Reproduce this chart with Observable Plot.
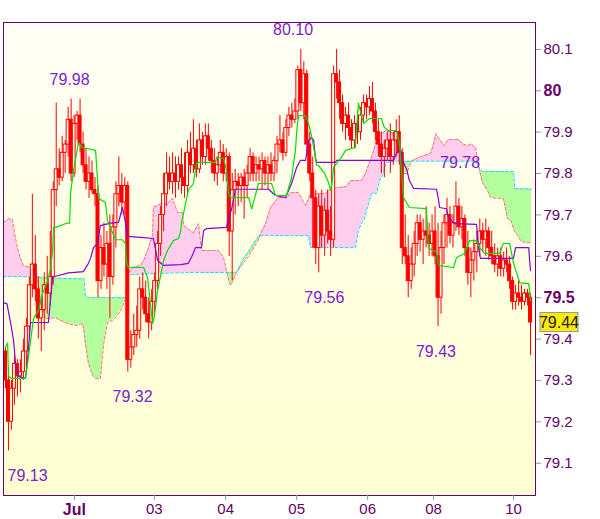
<!DOCTYPE html>
<html><head><meta charset="utf-8">
<script src="https://cdn.jsdelivr.net/npm/d3@7"></script>
<script src="https://cdn.jsdelivr.net/npm/@observablehq/plot@0.6"></script>
<style>html,body{margin:0;padding:0;background:#fff;} #chart svg{display:block;}</style>
</head><body><div id="chart"></div>
<script>
// Hourly candles (index 0..176)
const open = [79.37,79.30,79.20,79.28,79.34,79.31,79.32,79.37,79.43,79.53,79.58,79.52,79.45,79.47,79.53,79.51,79.55,79.76,79.81,79.79,79.85,79.87,79.93,79.80,79.92,79.94,79.87,79.82,79.78,79.80,79.76,79.75,79.54,79.62,79.58,79.63,79.55,79.67,79.75,79.77,79.73,79.77,79.35,79.38,79.41,79.42,79.52,79.50,79.46,79.44,79.49,79.54,79.63,79.70,79.75,79.80,79.78,79.80,79.78,79.82,79.79,79.77,79.85,79.82,79.86,79.81,79.88,79.84,79.89,79.86,79.83,79.80,79.82,79.85,79.80,79.84,79.66,79.76,79.78,79.77,79.79,79.77,79.80,79.84,79.80,79.82,79.81,79.83,79.80,79.82,79.80,79.83,79.87,79.88,79.85,79.91,79.94,79.93,79.95,80.05,79.97,80.04,79.87,79.80,79.74,79.62,79.72,79.65,79.71,79.66,79.64,80.04,80.02,79.97,79.92,79.94,79.91,79.88,79.92,79.90,79.94,79.97,79.96,79.98,79.95,79.90,79.87,79.84,79.86,79.88,79.84,79.88,79.90,79.85,79.62,79.60,79.54,79.58,79.63,79.68,79.64,79.66,79.65,79.63,79.66,79.60,79.50,79.62,79.68,79.70,79.65,79.68,79.72,79.67,79.69,79.62,79.56,79.59,79.61,79.63,79.66,79.64,79.66,79.62,79.60,79.58,79.60,79.57,79.59,79.58,79.54,79.49,79.51,79.50,79.49,79.51,79.50];
const high = [79.38,79.33,79.30,79.36,79.35,79.35,79.40,79.45,79.55,79.75,79.65,79.55,79.50,79.56,79.60,79.66,79.78,79.97,79.86,79.89,79.88,79.96,79.98,79.94,79.95,79.98,79.90,79.86,79.84,79.83,79.79,79.77,79.65,79.68,79.66,79.70,79.70,79.78,79.84,79.80,79.79,79.78,79.42,79.46,79.48,79.55,79.56,79.54,79.50,79.52,79.56,79.66,79.72,79.80,79.85,79.84,79.85,79.84,79.84,79.86,79.85,79.88,79.90,79.93,79.88,79.92,79.90,79.92,79.92,79.88,79.86,79.84,79.88,79.87,79.86,79.85,79.80,79.81,79.80,79.80,79.81,79.82,79.86,79.85,79.84,79.84,79.85,79.84,79.84,79.85,79.84,79.89,79.94,79.90,79.93,79.96,79.97,79.98,80.06,80.10,80.07,80.05,79.90,79.84,79.76,79.75,79.76,79.74,79.76,79.72,80.06,80.10,80.05,79.99,79.96,79.97,79.93,79.94,79.95,79.96,79.99,79.99,80.01,80.02,79.97,79.93,79.90,79.88,79.90,79.92,79.90,79.93,79.94,79.86,79.70,79.65,79.62,79.66,79.70,79.70,79.69,79.72,79.68,79.70,79.72,79.68,79.66,79.70,79.74,79.72,79.70,79.78,79.74,79.72,79.70,79.66,79.62,79.64,79.66,79.69,79.68,79.69,79.67,79.66,79.63,79.62,79.62,79.61,79.62,79.60,79.55,79.53,79.54,79.53,79.52,79.52,79.51];
const low = [79.28,79.13,79.18,79.24,79.26,79.27,79.30,79.33,79.40,79.50,79.49,79.40,79.37,79.42,79.46,79.48,79.53,79.72,79.77,79.78,79.80,79.84,79.78,79.79,79.88,79.85,79.80,79.76,79.74,79.75,79.72,79.50,79.52,79.55,79.52,79.45,79.53,79.62,79.72,79.70,79.70,79.32,79.33,79.36,79.38,79.40,79.47,79.44,79.40,79.42,79.46,79.52,79.60,79.66,79.72,79.76,79.75,79.74,79.76,79.75,79.74,79.75,79.80,79.80,79.79,79.80,79.82,79.82,79.83,79.80,79.78,79.77,79.80,79.78,79.78,79.60,79.54,79.70,79.72,79.73,79.69,79.74,79.78,79.78,79.78,79.78,79.76,79.77,79.76,79.78,79.78,79.80,79.85,79.83,79.84,79.89,79.91,79.92,79.93,79.95,79.93,79.84,79.78,79.62,79.58,79.56,79.62,79.60,79.63,79.60,79.62,79.98,79.93,79.90,79.88,79.89,79.86,79.86,79.87,79.88,79.92,79.93,79.94,79.92,79.88,79.84,79.80,79.79,79.83,79.80,79.82,79.84,79.82,79.58,79.58,79.50,79.52,79.55,79.60,79.61,79.58,79.62,79.60,79.60,79.58,79.43,79.46,79.58,79.62,79.63,79.62,79.66,79.65,79.64,79.60,79.53,79.50,79.54,79.56,79.60,79.61,79.60,79.59,79.58,79.56,79.55,79.55,79.55,79.56,79.52,79.47,79.47,79.48,79.47,79.48,79.48,79.36];
const close = [79.30,79.20,79.28,79.34,79.31,79.32,79.37,79.43,79.53,79.58,79.52,79.45,79.47,79.53,79.51,79.55,79.76,79.81,79.79,79.85,79.87,79.93,79.80,79.92,79.94,79.87,79.82,79.78,79.80,79.76,79.75,79.54,79.62,79.58,79.63,79.55,79.67,79.75,79.77,79.73,79.77,79.35,79.38,79.41,79.42,79.52,79.50,79.46,79.44,79.49,79.54,79.63,79.70,79.75,79.80,79.78,79.80,79.78,79.82,79.79,79.77,79.85,79.82,79.86,79.81,79.88,79.84,79.89,79.86,79.83,79.80,79.82,79.85,79.80,79.84,79.66,79.76,79.78,79.77,79.79,79.77,79.80,79.84,79.80,79.82,79.81,79.83,79.80,79.82,79.80,79.83,79.87,79.88,79.85,79.91,79.94,79.93,79.95,80.05,79.97,80.04,79.87,79.80,79.74,79.62,79.72,79.65,79.71,79.66,79.64,80.04,80.02,79.97,79.92,79.94,79.91,79.88,79.92,79.90,79.94,79.97,79.96,79.98,79.95,79.90,79.87,79.84,79.86,79.88,79.84,79.88,79.90,79.85,79.62,79.60,79.54,79.58,79.63,79.68,79.64,79.66,79.65,79.63,79.66,79.60,79.50,79.62,79.68,79.70,79.65,79.68,79.72,79.67,79.69,79.62,79.56,79.59,79.61,79.63,79.66,79.64,79.66,79.62,79.60,79.58,79.60,79.57,79.59,79.58,79.54,79.49,79.51,79.50,79.49,79.51,79.50,79.44];

// Conversion line (green) [index, price]
const tenkan = [[0,79.38],[0.7,79.39],[1,79.31],[2,79.305],[6.7,79.305],[7.4,79.341],[9.4,79.45],[11.1,79.47],[12.4,79.51],[14.1,79.54],[15.1,79.57],[15.8,79.614],[16.1,79.67],[16.8,79.67],[20.5,79.68],[21.5,79.68],[21.8,79.752],[22.8,79.807],[24.1,79.86],[24.5,79.875],[25.8,79.863],[30.2,79.856],[30.8,79.79],[31.2,79.74],[33.5,79.73],[34.2,79.686],[36.9,79.64],[39.2,79.64],[40.2,79.631],[40.6,79.585],[41.2,79.573],[46.3,79.573],[47.6,79.549],[48.6,79.486],[49.3,79.438],[49.8,79.45],[51,79.517],[53,79.59],[54.3,79.614],[56.3,79.638],[58,79.643],[58.7,79.66],[59,79.68],[61.3,79.76],[63,79.776],[64,79.824],[64.7,79.827],[70.4,79.827],[70.7,79.839],[73.1,79.837],[74.1,79.807],[74.8,79.752],[75.4,79.742],[81.5,79.742],[82.5,79.715],[83.5,79.74],[84.8,79.776],[89.2,79.776],[90.5,79.747],[94.2,79.747],[95.9,79.791],[97.2,79.856],[97.6,79.90],[98.2,79.94],[100.6,79.94],[101.6,79.921],[102.6,79.89],[103.3,79.863],[104.3,79.82],[104.9,79.82],[107,79.80],[108.3,79.778],[109,79.759],[109.5,79.78],[110,79.815],[112.6,79.839],[114,79.856],[117.3,79.863],[118.3,79.97],[120,79.921],[122,79.933],[126,79.933],[127,79.911],[128.4,79.904],[131.1,79.904],[132.1,79.872],[133.4,79.742],[135.4,79.718],[141.1,79.715],[141.8,79.62],[144.5,79.609],[145.2,79.578],[150.2,79.573],[151.2,79.597],[153.9,79.607],[155.6,79.638],[157.9,79.638],[158.9,79.621],[160.6,79.607],[165.6,79.607],[166.9,79.631],[169,79.631],[170.3,79.583],[172.4,79.536],[175.4,79.534],[176,79.493]];

// Base line (purple) [index, price]
const kijun = [[-0.67,79.488],[0.5,79.485],[1.7,79.44],[2.7,79.397],[3.5,79.33],[4.4,79.31],[6.7,79.305],[7.5,79.36],[8.4,79.44],[14.4,79.44],[15.8,79.55],[21.1,79.56],[26.1,79.563],[27.8,79.583],[28.5,79.595],[29.5,79.621],[30.8,79.631],[31.8,79.674],[35.2,79.68],[37.9,79.682],[39.2,79.718],[40,79.69],[40.9,79.648],[46.3,79.645],[49.6,79.643],[51,79.59],[53,79.578],[58.7,79.58],[61.3,79.583],[62.5,79.60],[63.7,79.621],[65.7,79.621],[66.4,79.662],[67.4,79.667],[74.1,79.670],[75,79.70],[75.7,79.711],[77.1,79.762],[88.2,79.762],[90.5,79.747],[93.9,79.742],[95.9,79.776],[97.6,79.815],[98.9,79.832],[100.6,79.832],[101.6,79.880],[102.6,79.887],[103.3,79.88],[103.9,79.839],[104.3,79.827],[110.6,79.827],[111,79.832],[130.1,79.832],[131.1,79.849],[132.5,79.856],[133.4,79.827],[134.5,79.81],[135.4,79.783],[136.8,79.764],[144.5,79.762],[145.2,79.735],[145.5,79.718],[147.8,79.715],[148.5,79.694],[150.5,79.679],[157.9,79.677],[158.6,79.62],[159.2,79.595],[170.3,79.595],[171,79.621],[175.4,79.621],[175.7,79.59],[176,79.566]];

// Cloud [index, span (salmon dashed), span (cyan dashed)]
const cloud = [[-0.67,79.682,79.551],[1,79.691,79.551],[2.3,79.689,79.551],[3,79.657,79.551],[4,79.621,79.551],[5,79.595,79.551],[6,79.578,79.551],[8.4,79.573,79.550],[10.1,79.559,79.550],[10.7,79.549,79.550],[11.7,79.493,79.549],[13.4,79.450,79.548],[15.1,79.450,79.548],[16.8,79.452,79.547],[18.4,79.445,79.547],[21.8,79.435,79.546],[24.1,79.433,79.546],[25.8,79.438,79.546],[26.3,79.42,79.546],[26.8,79.389,79.505],[27.8,79.341,79.500],[29.2,79.312,79.500],[30.2,79.305,79.500],[31.8,79.305,79.500],[32.9,79.389,79.500],[34.2,79.440,79.500],[35.9,79.445,79.500],[36.9,79.452,79.500],[39.2,79.476,79.500],[40.2,79.498,79.500],[40.9,79.53,79.500],[41.2,79.559,79.554],[42.6,79.573,79.556],[45.3,79.578,79.557],[46.3,79.590,79.557],[47.6,79.614,79.558],[49.3,79.650,79.558],[49.6,79.718,79.558],[52,79.727,79.559],[54.3,79.727,79.559],[56,79.740,79.560],[57.7,79.706,79.560],[59.3,79.706,79.560],[59.7,79.675,79.560],[61,79.667,79.561],[63,79.657,79.561],[64.7,79.679,79.561],[65.7,79.614,79.561],[71.4,79.614,79.561],[73.1,79.597,79.561],[74.1,79.566,79.561],[74.8,79.542,79.561],[75.4,79.530,79.561],[76,79.537,79.561],[77.4,79.561,79.561],[78.8,79.575,79.58],[79.8,79.585,79.595],[81.5,79.600,79.612],[83.1,79.620,79.630],[84.8,79.640,79.648],[85.5,79.655,79.650],[87.2,79.679,79.650],[88.8,79.718,79.650],[91.5,79.742,79.650],[94.5,79.742,79.650],[95.5,79.754,79.650],[98.2,79.754,79.650],[100.6,79.723,79.650],[101.6,79.74,79.650],[102.3,79.752,79.621],[107.3,79.752,79.621],[109.3,79.764,79.621],[114.3,79.769,79.621],[115.7,79.783,79.621],[117.3,79.783,79.621],[118.3,79.783,79.662],[119.3,79.783,79.68],[120.3,79.795,79.69],[121,79.807,79.71],[122.7,79.84,79.752],[123.7,79.863,79.752],[124.4,79.892,79.752],[125.4,79.895,79.783],[126.7,79.90,79.803],[127.7,79.904,79.827],[130.4,79.896,79.830],[131.5,79.87,79.830],[132.5,79.82,79.830],[133.4,79.80,79.829],[134.5,79.80,79.829],[135.5,79.82,79.830],[136.5,79.832,79.830],[138.5,79.839,79.830],[142.5,79.849,79.830],[143.5,79.872,79.830],[144.2,79.896,79.830],[145.8,79.880,79.830],[146.8,79.867,79.830],[148.5,79.882,79.830],[151.9,79.882,79.830],[153.2,79.872,79.830],[154.9,79.867,79.830],[155.9,79.872,79.830],[157.6,79.863,79.830],[158.2,79.832,79.822],[158.9,79.807,79.812],[159.9,79.778,79.805],[161.6,79.759,79.805],[162.6,79.742,79.805],[165.3,79.740,79.805],[166.9,79.740,79.805],[167.6,79.715,79.805],[168.3,79.691,79.805],[169.3,79.689,79.805],[170.3,79.667,79.805],[170.7,79.660,79.764],[171.7,79.650,79.764],[172.7,79.638,79.763],[174.3,79.633,79.763],[176.3,79.633,79.762]];

// Axis ticks
const dayTickIdx = [23.1, 49.9, 73.8, 97.6, 121.4, 143.5, 170.3];
const dayTickLabels = ["Jul", "03", "04", "05", "06", "08", "10"];
const priceTicks = [79.1, 79.2, 79.3, 79.4, 79.5, 79.6, 79.7, 79.8, 79.9, 80.0, 80.1];
const priceTickLabels = ["79.1", "79.2", "79.3", "79.4", "79.5", "79.6", "79.7", "79.8", "79.9", "80", "80.1"];
const boldPriceTicks = [79.5, 80.0];

// Daily high / low annotations
const extremeLabels = ["79.98", "80.10", "79.78", "79.13", "79.32", "79.56", "79.43"];
const extremeIdx = [21.5, 96.4, 152.4, 7.4, 42.6, 106.9, 144.3];
const extremeKind = ["high", "high", "high", "low", "low", "low", "low"];

const candles = open.map((o, i) => ({i, open: o, high: high[i], low: low[i], close: close[i]}));
const cloudData = cloud.map(([i, s, c]) => ({i, salmon: s, cyan: c, top: Math.max(s, c)}));
const tenkanData = tenkan.map(([i, v]) => ({i, v}));
const kijunData = kijun.map(([i, v]) => ({i, v}));
const extremes = extremeLabels.map((t, k) => ({t, i: extremeIdx[k], v: +t, kind: extremeKind[k]}));
const lastClose = close[close.length - 1];

const font = "'Liberation Sans', Arial, sans-serif";
const tickLabel = d => priceTickLabels[priceTicks.indexOf(d)];
const dayLabel = d => dayTickLabels[dayTickIdx.indexOf(d)];

const plot = Plot.plot({
  width: 600, height: 519,
  marginTop: 22, marginLeft: 3, marginRight: 65, marginBottom: 24,
  x: {type: "linear", domain: [-0.67, 177.67], label: null},
  y: {domain: [79.022, 80.165], label: null},
  style: {background: "white", fontFamily: font},
  marks: [
    Plot.frame({fill: "url(#bgGrad)", stroke: null}),
    Plot.areaY(cloudData, {x: "i", y1: "cyan", y2: "top", fill: "#ffcdee"}),
    Plot.areaY(cloudData, {x: "i", y1: "salmon", y2: "top", fill: "#b3ff9e"}),
    Plot.line(cloudData, {x: "i", y: "salmon", stroke: "#ff6f6f", strokeWidth: 1, strokeDasharray: "3,2"}),
    Plot.line(cloudData, {x: "i", y: "cyan", stroke: "#22d0ff", strokeWidth: 1, strokeDasharray: "3,2"}),
    Plot.ruleX(candles, {x: "i", y1: "low", y2: "high", stroke: "#ff0000", strokeWidth: 1}),
    Plot.rect(candles.filter(d => d.close >= d.open), {x1: d => d.i - 0.5, x2: d => d.i + 0.5, y1: "open", y2: "close", fill: "url(#bgGrad)", stroke: "#ff0000", strokeWidth: 1}),
    Plot.rect(candles.filter(d => d.close < d.open), {x1: d => d.i - 0.5, x2: d => d.i + 0.5, y1: "open", y2: "close", fill: "#ff0000", stroke: "#ff0000", strokeWidth: 1}),
    Plot.line(kijunData, {x: "i", y: "v", stroke: "#8a00d4", strokeWidth: 1.2}),
    Plot.line(tenkanData, {x: "i", y: "v", stroke: "#00e000", strokeWidth: 1.2}),
    Plot.frame({stroke: "#660066", strokeWidth: 1}),
    Plot.axisY(priceTicks.filter(t => !boldPriceTicks.includes(t)), {anchor: "right", tickSize: 5, tickPadding: 3, stroke: "#8899aa", fill: "#660066", fontSize: 15, tickFormat: tickLabel, label: null}),
    Plot.axisY(boldPriceTicks, {anchor: "right", tickSize: 5, tickPadding: 3, stroke: "#8899aa", fill: "#660066", fontSize: 16, fontWeight: "bold", tickFormat: tickLabel, label: null}),
    Plot.axisX(dayTickIdx.slice(1), {anchor: "bottom", tickSize: 5, tickPadding: 3, stroke: "#8899aa", fill: "#660066", fontSize: 15, tickFormat: dayLabel, label: null}),
    Plot.axisX(dayTickIdx.slice(0, 1), {anchor: "bottom", tickSize: 5, tickPadding: 3, stroke: "#8899aa", fill: "#660066", fontSize: 16, fontWeight: "bold", tickFormat: dayLabel, label: null}),
    Plot.text(extremes.filter(d => d.kind === "high"), {x: "i", y: "v", text: "t", dy: -14, lineAnchor: "bottom", fill: "#7a22cc", fontSize: 16}),
    Plot.text(extremes.filter(d => d.kind === "low"), {x: "i", y: "v", text: "t", dy: 30, lineAnchor: "bottom", fill: "#7a22cc", fontSize: 16})
  ]
});

// background gradient + current price badge
const ys = plot.scale("y"), xs = plot.scale("x");
const svg = d3.select(plot);
const defs = svg.insert("defs", ":first-child");
const grad = defs.append("linearGradient").attr("id", "bgGrad").attr("gradientUnits", "userSpaceOnUse")
  .attr("x1", 0).attr("x2", 0).attr("y1", ys.range[1]).attr("y2", ys.range[0]);
grad.append("stop").attr("offset", "0%").attr("stop-color", "#fffff6");
grad.append("stop").attr("offset", "100%").attr("stop-color", "#ffffd0");
const badge = svg.append("g");
const by = ys.apply(lastClose);
const bx = xs.range[1] + 5;
badge.append("rect").attr("x", bx).attr("y", by - 9.5).attr("width", 38).attr("height", 19)
  .attr("fill", "#ffea00").attr("stroke", "#8899aa");
badge.append("text").attr("x", bx + 19).attr("y", by).attr("dy", "0.36em").attr("text-anchor", "middle")
  .attr("font-family", font).attr("font-size", 16).attr("fill", "#222").text(lastClose.toFixed(2));
document.getElementById("chart").append(plot);
</script>
</body></html>
